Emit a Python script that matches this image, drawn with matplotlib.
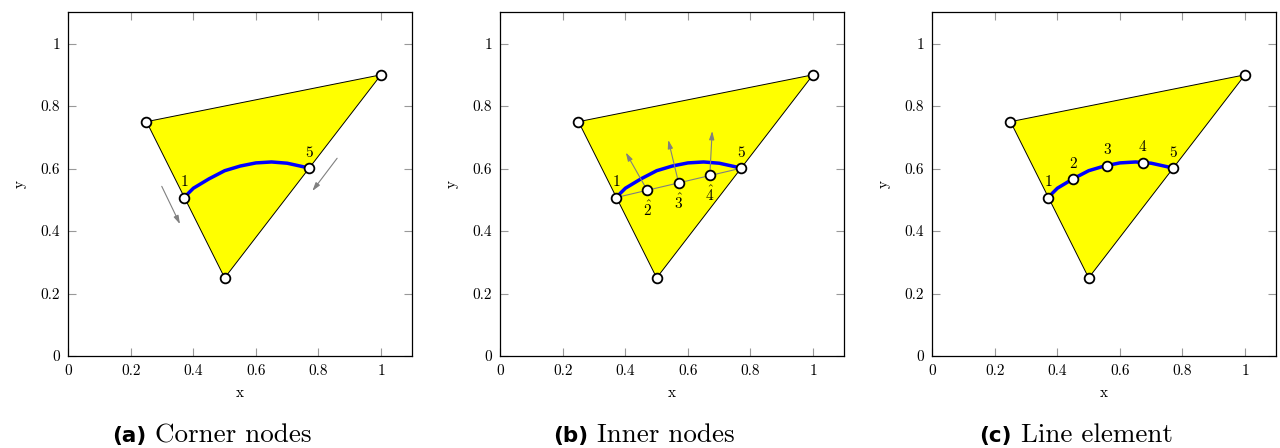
import matplotlib.pyplot as plt
from matplotlib.ticker import FuncFormatter

plt.rcParams['font.family'] = ['cmr10', 'DejaVu Serif']
plt.rcParams['mathtext.fontset'] = 'cm'
plt.rcParams['axes.formatter.use_mathtext'] = True

# triangle corners
tri_x = [0.25, 1.0, 0.5]
tri_y = [0.75, 0.9, 0.25]

# curved edge through the element
curve_x = [0.37, 0.40, 0.45, 0.50, 0.55, 0.60, 0.65, 0.70, 0.75, 0.77]
curve_y = [0.507, 0.537, 0.567, 0.593, 0.608, 0.618, 0.621, 0.617, 0.606, 0.601]

# end nodes of the line
end_x = [0.37, 0.77]
end_y = [0.507, 0.601]
end_labels = ['1', '5']

# inner nodes on the straight chord
inner_x = [0.47, 0.57, 0.67]
inner_y = [0.530, 0.555, 0.578]
inner_labels = [r'$\hat{2}$', r'$\hat{3}$', r'$\hat{4}$']
inner_tip_x = [0.397, 0.535, 0.678]
inner_tip_y = [0.659, 0.700, 0.729]

# nodes of the line element
line_x = [0.37, 0.45, 0.558, 0.673, 0.77]
line_y = [0.507, 0.567, 0.609, 0.619, 0.601]
line_labels = ['1', '2', '3', '4', '5']

# sliding directions of the end nodes
slide_start = [(0.295, 0.551), (0.865, 0.640)]
slide_end = [(0.361, 0.414), (0.775, 0.521)]

captions = [('(a)', 'Corner nodes'), ('(b)', 'Inner nodes'), ('(c)', 'Line element')]

W, H = 1280, 448
fig = plt.figure(figsize=(12.8, 4.48), dpi=100)
lefts = [68.3, 500.3, 932.3]
centers = [212, 644, 1076]

node_kw = dict(linestyle='none', marker='o', markersize=7,
               markerfacecolor='white', markeredgecolor='black',
               markeredgewidth=1.3, zorder=5)
arrow_kw = dict(arrowstyle='-|>,head_length=0.5,head_width=0.15',
                color='gray', lw=0.8)
label_fs = 11


def setup(ax):
    ax.set_xlim(0, 1.1)
    ax.set_ylim(0, 1.1)
    ticks = [0, 0.2, 0.4, 0.6, 0.8, 1]
    ax.set_xticks(ticks)
    ax.set_yticks(ticks)
    fmt = FuncFormatter(lambda v, p: '%g' % v)
    ax.xaxis.set_major_formatter(fmt)
    ax.yaxis.set_major_formatter(fmt)
    ax.tick_params(direction='in', top=True, right=True, length=5.5,
                   width=0.8, color='#999999', labelsize=11, pad=6)
    for s in ax.spines.values():
        s.set_linewidth(0.9)
    ax.set_xlabel('x', fontsize=11, labelpad=6)
    ax.set_ylabel('y', fontsize=11, labelpad=10)
    ax.fill(tri_x, tri_y, facecolor='yellow', edgecolor='black', lw=0.7, zorder=1)
    ax.plot(tri_x, tri_y, **node_kw)


axes = []
for i in range(3):
    ax = fig.add_axes([lefts[i] / W, 92 / H, 344 / W, 343.7 / H])
    setup(ax)
    axes.append(ax)

# (a) corner nodes
ax = axes[0]
ax.plot(curve_x, curve_y, color='blue', lw=2.5, solid_capstyle='butt', zorder=3)
ax.plot(end_x, end_y, **node_kw)
for x, y, t in zip(end_x, end_y, end_labels):
    ax.annotate(t, (x, y), xytext=(0, 6), textcoords='offset points',
                ha='center', va='bottom', fontsize=label_fs)
for s, e in zip(slide_start, slide_end):
    ax.annotate('', xy=e, xytext=s, arrowprops=arrow_kw)

# (b) inner nodes
ax = axes[1]
ax.plot(curve_x, curve_y, color='blue', lw=2.5, solid_capstyle='butt', zorder=3)
ax.plot(end_x, end_y, color='gray', lw=0.8, zorder=2)
for x, y, tx, ty in zip(inner_x, inner_y, inner_tip_x, inner_tip_y):
    ax.annotate('', xy=(tx, ty), xytext=(x, y), arrowprops=arrow_kw, zorder=4)
ax.plot(inner_x, inner_y, **node_kw)
ax.plot(end_x, end_y, **node_kw)
for x, y, t in zip(end_x, end_y, end_labels):
    ax.annotate(t, (x, y), xytext=(0, 6), textcoords='offset points',
                ha='center', va='bottom', fontsize=label_fs)
for x, y, t in zip(inner_x, inner_y, inner_labels):
    ax.annotate(t, (x, y), xytext=(0, -7), textcoords='offset points',
                ha='center', va='top', fontsize=label_fs)

# (c) line element
ax = axes[2]
ax.plot(curve_x, curve_y, color='blue', lw=2.5, solid_capstyle='butt', zorder=3)
ax.plot(line_x, line_y, **node_kw)
for x, y, t in zip(line_x, line_y, line_labels):
    ax.annotate(t, (x, y), xytext=(0, 6), textcoords='offset points',
                ha='center', va='bottom', fontsize=label_fs)

# subfigure captions: bold sans tag followed by serif text, centred as one line
renderer = fig.canvas.get_renderer()
gap = 9
for cx, (tag, name) in zip(centers, captions):
    t1 = fig.text(0, 1 - 442 / H, tag, ha='left', va='baseline',
                  fontsize=15.5, fontweight='bold', family='DejaVu Sans')
    t2 = fig.text(0, 1 - 442 / H, name, ha='left', va='baseline',
                  fontsize=19.5, family=['cmr10', 'DejaVu Serif'])
    w1 = t1.get_window_extent(renderer).width
    w2 = t2.get_window_extent(renderer).width
    x0 = cx - (w1 + gap + w2) / 2
    t1.set_x(x0 / W)
    t2.set_x((x0 + w1 + gap) / W)

fig.savefig('out.png', dpi=100)
